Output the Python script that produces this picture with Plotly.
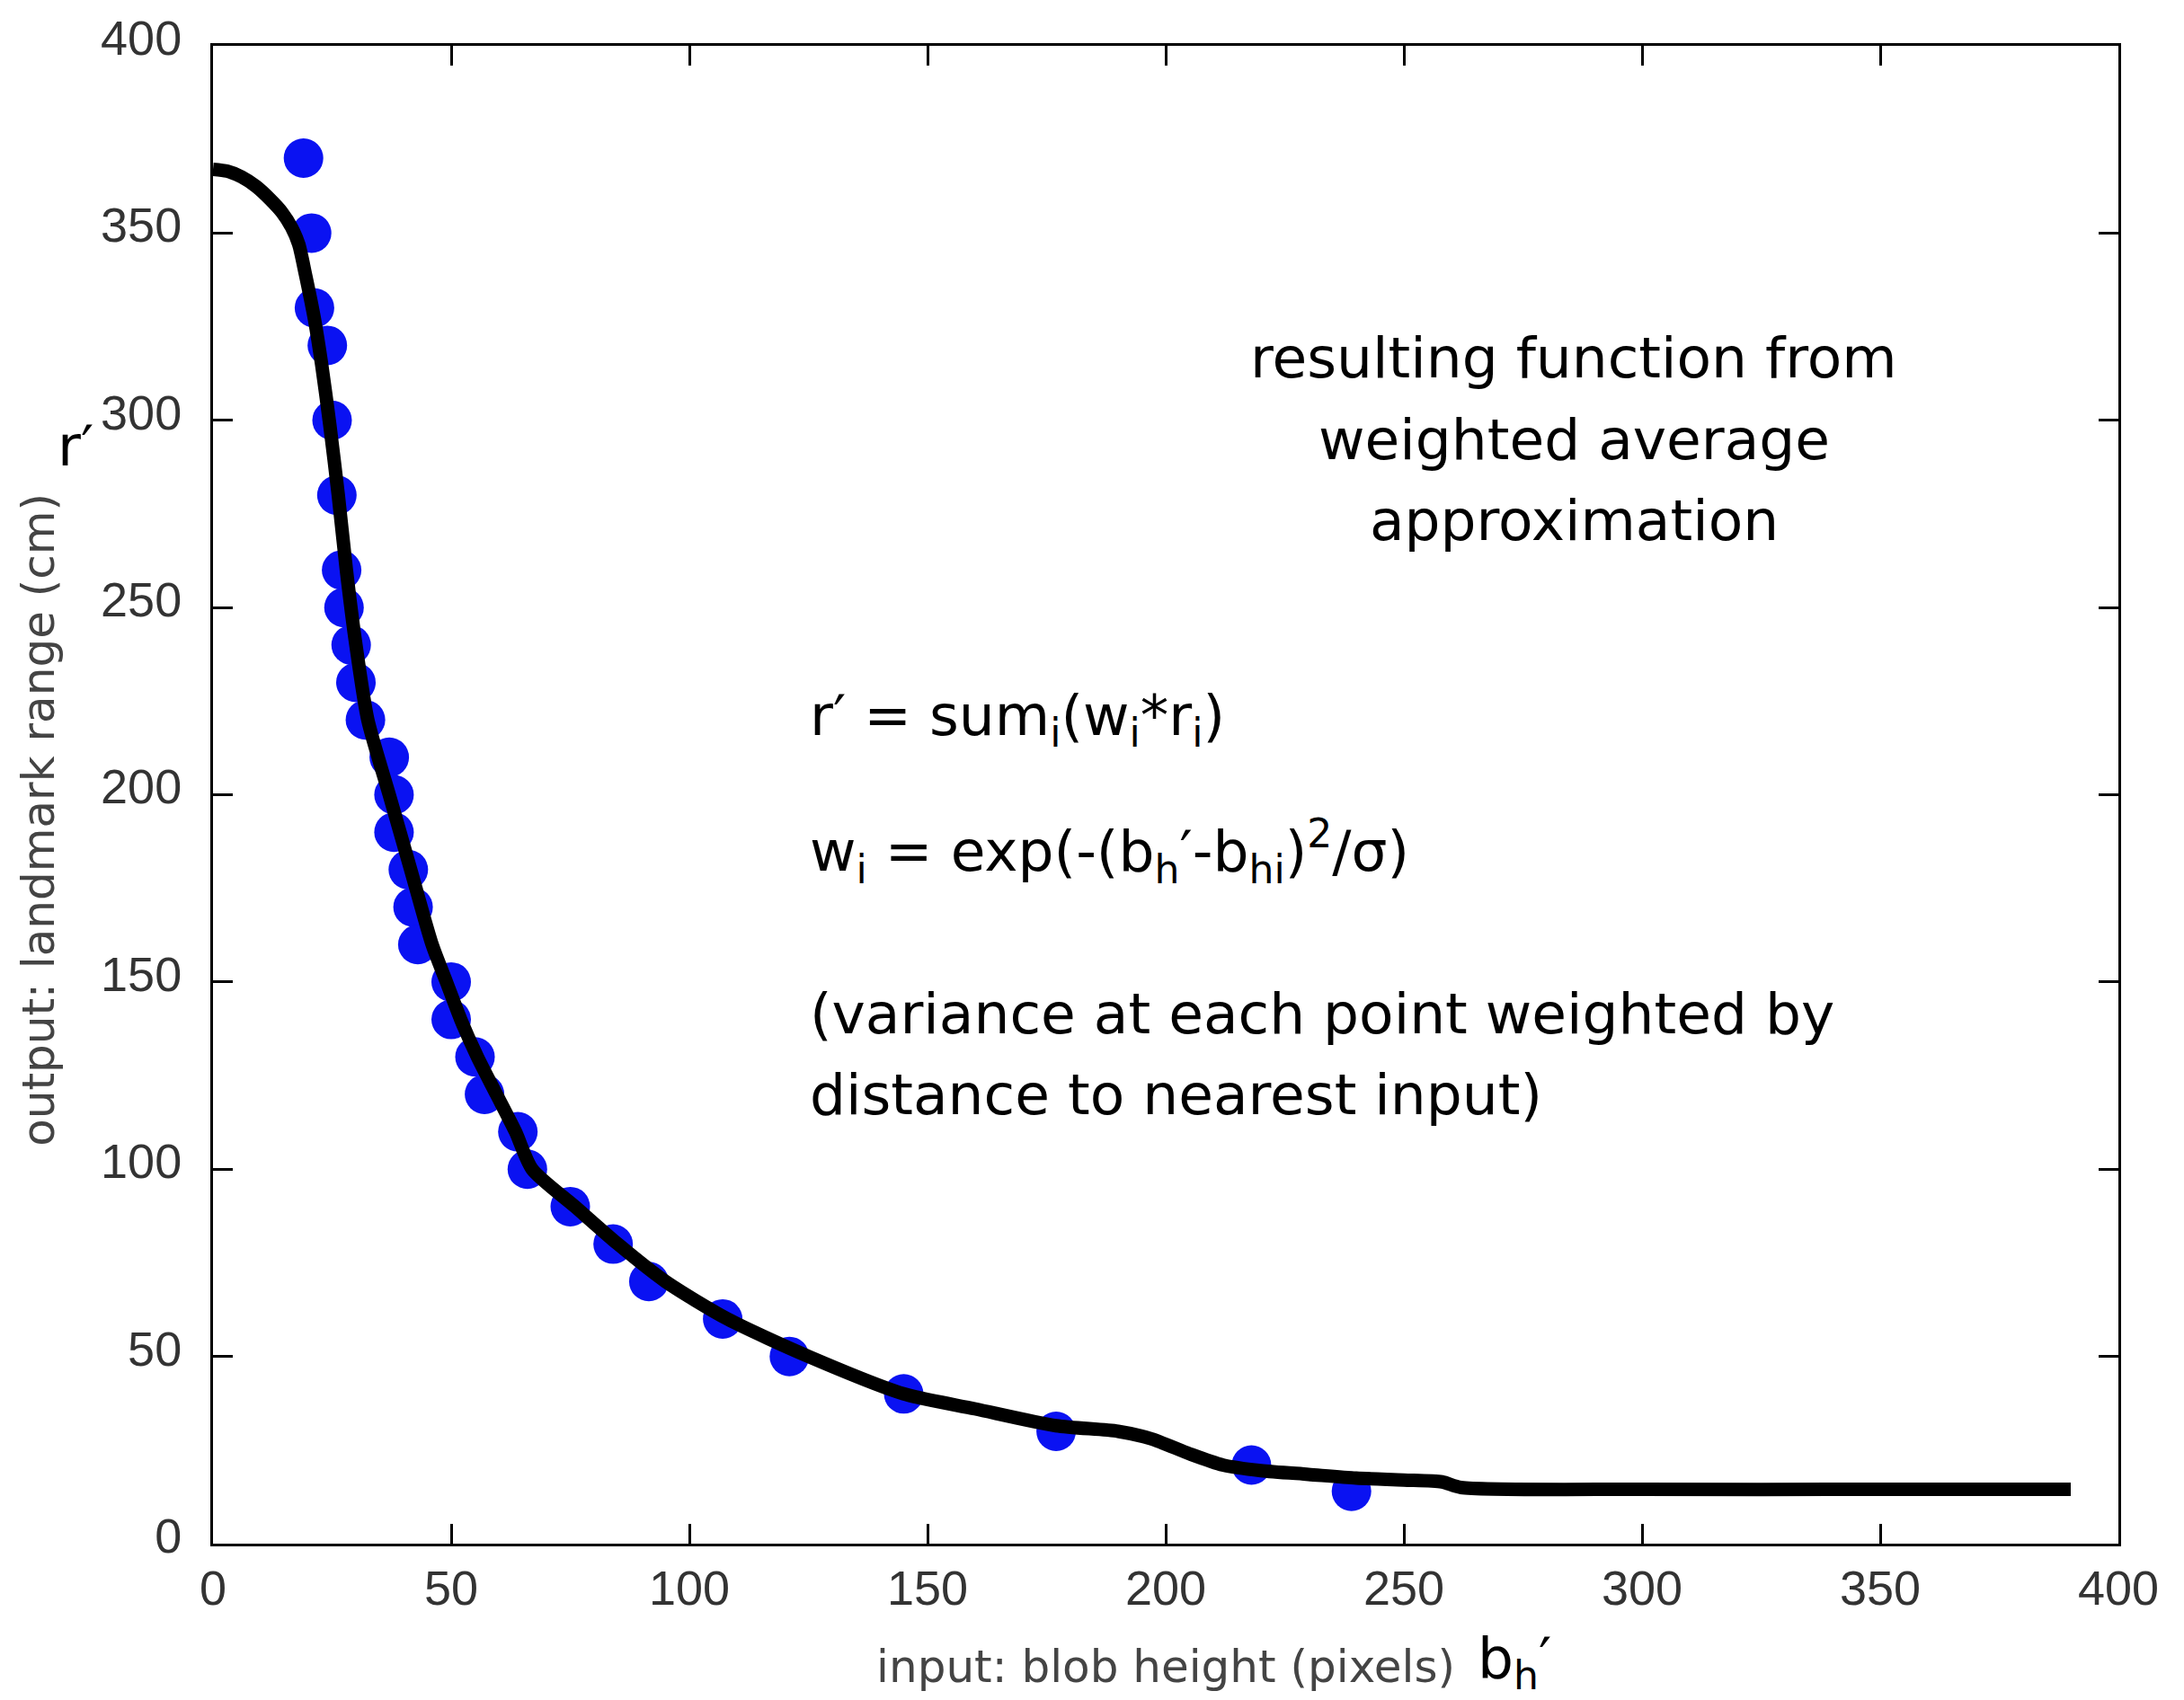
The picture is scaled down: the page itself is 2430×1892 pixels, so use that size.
import plotly.graph_objects as go

# Calibration samples: blob height (pixels) vs. measured landmark range (cm)
blob_height = [19, 20.7, 21.3, 24, 25, 26, 27, 27.5, 29, 30, 32, 37, 38, 38,
               41, 42, 43, 50, 50, 55, 57, 64, 66, 75, 84, 91.5, 107, 121,
               145, 177, 218, 239]
landmark_range = [370, 350, 330, 320, 300, 280, 260, 250, 240, 230, 220, 210,
                  200, 190, 180, 170, 160, 150, 140, 130, 120, 110, 100, 90,
                  80, 70, 60, 50, 40, 30, 21, 14]

# Weighted-average approximation evaluated over the input range
curve_x = [0, 3, 6, 9, 12, 14.5, 16.5, 18, 19.4, 21.3, 22.8, 24.5, 26.3, 28,
           30, 32.5, 37, 41.5, 46, 49, 52, 55.5, 59.5, 63.5, 67, 76, 85, 95,
           108, 125, 145, 160, 177, 190, 197, 205, 212, 220, 230, 240, 250,
           258, 262, 300, 350, 390]
curve_y = [367, 366.5, 365, 362.5, 359, 355.5, 351.5, 347, 339, 327, 315, 299,
           280, 260, 240, 220, 200, 180, 160, 150, 140, 130, 120, 110, 100, 90,
           80, 70, 60, 50, 40, 36, 31.5, 30, 28, 24, 21, 19.5, 18.5, 17.5, 17,
           16.5, 15, 14.5, 14.5, 14.5]

tick_vals = [0, 50, 100, 150, 200, 250, 300, 350, 400]

fig = go.Figure()

fig.add_trace(go.Scatter(
    x=blob_height, y=landmark_range, mode="markers",
    marker=dict(size=44, color="#0a12f2", line=dict(width=0)),
    showlegend=False,
))
fig.add_trace(go.Scatter(
    x=curve_x, y=curve_y, mode="lines",
    line=dict(color="black", width=15, shape="spline", smoothing=0.7),
    showlegend=False,
))

axis_common = dict(
    range=[0, 400], tickvals=tick_vals, ticks="inside", ticklen=22,
    tickwidth=3, tickcolor="black", showline=True, linewidth=3,
    linecolor="black", mirror="ticks", showgrid=False, zeroline=False,
    tickfont=dict(family="Liberation Sans, Arial, sans-serif", size=54,
                  color="#333333"),
)

title_font = dict(family="DejaVu Sans, sans-serif", size=50, color="#444444")

fig.update_xaxes(
    **axis_common,
    ticklabelstandoff=0,
    title=dict(text="input: blob height (pixels)", standoff=42,
               font=title_font),
)
fig.update_yaxes(
    **axis_common,
    ticklabelstandoff=21,
    ticklabelshift=-9,
)

# Vertical axis title placed beside the tick labels
fig.add_annotation(x=-0.0915, y=0.483, xref="paper", yref="paper",
                   text="output: landmark range (cm)", textangle=-90,
                   showarrow=False, xanchor="center", yanchor="middle",
                   font=title_font)

note_font = dict(family="DejaVu Sans, sans-serif", size=63, color="black")

heading = ["resulting function from", "weighted average", "approximation"]
heading_y = [316.7, 294.7, 273.1]
for line, yv in zip(heading, heading_y):
    fig.add_annotation(x=285.7, y=yv, xref="x", yref="y", text=line,
                       showarrow=False, xanchor="center", yanchor="middle",
                       font=note_font)

formula_lines = [
    ("r′ = sum<sub>i</sub>(w<sub>i</sub>*r<sub>i</sub>)", 220.2),
    ("w<sub>i</sub> = exp(-(b<sub>h</sub>′-b<sub>hi</sub>)<sup>2</sup>/σ)", 185),
    ("(variance at each point weighted by", 141.5),
    ("distance to nearest input)", 119.9),
]
for text, yv in formula_lines:
    fig.add_annotation(x=124.9, y=yv, xref="x", yref="y", text=text,
                       showarrow=False, xanchor="left", yanchor="middle",
                       font=note_font)

# Symbol labels next to the axis titles
fig.add_annotation(x=-0.072, y=0.733, xref="paper", yref="paper", text="r′",
                   showarrow=False, xanchor="center", yanchor="middle",
                   font=note_font)
fig.add_annotation(x=0.683, y=-0.079, xref="paper", yref="paper",
                   text="b<sub>h</sub>′", showarrow=False, xanchor="center",
                   yanchor="middle", font=note_font)

fig.update_layout(
    width=2430, height=1892,
    margin=dict(l=237, r=73, t=47, b=174),
    paper_bgcolor="white", plot_bgcolor="white",
)

fig.write_html("out.html")
